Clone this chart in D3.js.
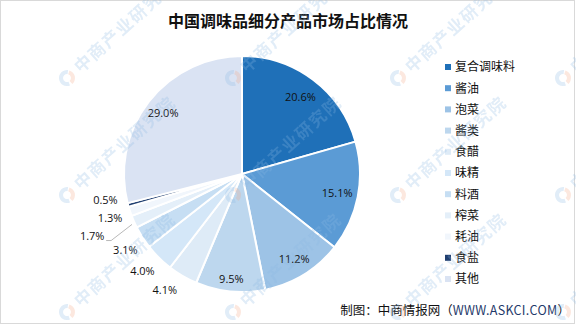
<!DOCTYPE html>
<html>
<head>
<meta charset="utf-8">
<script src="https://cdn.jsdelivr.net/npm/d3@7"></script>
<style>
  html, body { margin: 0; padding: 0; background: #fff; }
  svg { display: block; }
</style>
</head>
<body>
<svg id="chart" width="576" height="326"></svg>
<script>
// Segment shares of China's condiment market (%)
const categories = ["复合调味料", "酱油", "泡菜", "酱类", "食醋", "味精", "料酒", "榨菜", "耗油", "食盐", "其他"];
const shares = [20.6, 15.1, 11.2, 9.5, 4.1, 4.0, 3.1, 1.7, 1.3, 0.5, 29.0];
const sliceColors = ["#1F70B8", "#5B9BD5", "#9DC3E6", "#BDD7EE", "#DEEBF7", "#D4E7F8", "#C6DEF3", "#E4EFF9", "#F1F6FC", "#203F70", "#DAE3F3"];
const titleText = "中国调味品细分产品市场占比情况";
const sourcePrefix = "制图：中商情报网（";
const sourceUrl = "WWW.ASKCI.COM";
const sourceSuffix = "）";
const watermarkText = "中商产业研究院";

const W = 576, H = 326;
const svg = d3.select("#chart");
const cjk = "'Noto Sans CJK SC', 'Noto Sans', sans-serif";

// frame
svg.append("rect").attr("x", 0.5).attr("y", 0.5).attr("width", W - 2).attr("height", H - 3)
  .attr("fill", "#fff").attr("stroke", "#D9D9D9");

// title
svg.append("text").attr("x", 288).attr("y", 27).attr("text-anchor", "middle")
  .attr("font-family", cjk).attr("font-weight", "bold").attr("font-size", 16)
  .attr("fill", "#111").text(titleText);

// pie
const cx = 242, cy = 174, R = 118;
const color = d3.scaleOrdinal().domain(categories).range(sliceColors);
const pie = d3.pie().value(d => d.v).sort(null);
const data = categories.map((c, i) => ({ c, v: shares[i] }));
const arcs = pie(data);
const arc = d3.arc().innerRadius(0).outerRadius(R);

const g = svg.append("g").attr("transform", `translate(${cx},${cy})`);
g.selectAll("path.slice").data(arcs).enter().append("path")
  .attr("class", "slice")
  .attr("d", arc)
  .attr("fill", d => color(d.data.c))
  .attr("stroke", "#fff").attr("stroke-width", 2).attr("stroke-linejoin", "round");

// label placement: big slices inside, small ones outside
const fmt = v => v.toFixed(1) + "%";
const polar = (r, a) => [r * Math.sin(a), -r * Math.cos(a)];
const deg = Math.PI / 180;
const innerR = { "复合调味料": 97, "酱油": 97, "泡菜": 100, "酱类": 106, "其他": 100 };
const outerNudge = { "食醋": 3.5, "味精": 1, "料酒": -0.5, "耗油": 0, "食盐": 4.5 };
const labels = g.append("g").attr("font-family", "'Open Sans', 'Noto Sans', sans-serif")
  .attr("font-size", 11).attr("fill", "#111").attr("text-anchor", "middle");

arcs.forEach(d => {
  const mid = (d.startAngle + d.endAngle) / 2;
  const name = d.data.c;
  let p;
  if (innerR[name] !== undefined) {
    p = polar(innerR[name], mid);
  } else if (name === "榨菜") {
    // pulled-out label with a leader line
    const e = polar(R + 3, mid - 0.8 * deg);
    const lp = polar(162, mid + 1.5 * deg);
    const elbow = [lp[0] + 19, lp[1] + 5];
    g.append("polyline")
      .attr("points", [e, elbow, [lp[0] + 14, elbow[1]]].map(q => q.join(",")).join(" "))
      .attr("fill", "none").attr("stroke", "#A6A6A6").attr("stroke-width", 0.8);
    p = lp;
  } else {
    p = polar(139, mid + (outerNudge[name] || 0) * deg);
  }
  labels.append("text").attr("x", p[0]).attr("y", p[1]).attr("dy", "0.36em").text(fmt(d.data.v));
});

// legend
const legend = svg.append("g").attr("font-family", cjk).attr("font-size", 12).attr("fill", "#111");
const ly = d3.scalePoint().domain(categories).range([67, 279]);
categories.forEach(c => {
  const y = ly(c);
  legend.append("rect").attr("x", 445).attr("y", y - 3).attr("width", 6).attr("height", 6).attr("fill", color(c));
  legend.append("text").attr("x", 455).attr("y", y).attr("dy", "0.36em").text(c);
});

// source note
const src = svg.append("text").attr("x", 570).attr("y", 310).attr("dy", "0.36em").attr("text-anchor", "end")
  .attr("font-family", cjk).attr("font-size", 12.5).attr("fill", "#111");
src.append("tspan").text(sourcePrefix);
src.append("tspan").attr("fill", "#1F3A6A").attr("letter-spacing", 0.3).text(sourceUrl);
src.append("tspan").text(sourceSuffix);

// faint watermark grid
const wm = svg.append("g").attr("opacity", 0.26).attr("pointer-events", "none");
[67, 233, 398, 563].forEach(x => {
  [78, 195, 312].forEach(y => {
    const m = wm.append("g").attr("transform", `translate(${x},${y}) rotate(-42)`);
    const logoArc = d3.arc().innerRadius(4).outerRadius(8);
    m.append("path").attr("d", logoArc({ startAngle: 200 * deg, endAngle: 410 * deg })).attr("fill", "#8DB8E2");
    m.append("path").attr("d", logoArc({ startAngle: 60 * deg, endAngle: 180 * deg })).attr("fill", "#F4A582");
    m.append("text").attr("x", 13).attr("y", 6).attr("font-family", cjk).attr("font-weight", "bold")
      .attr("font-size", 17).attr("letter-spacing", 1.5).attr("fill", "#8DB8E2").text(watermarkText);
  });
});
</script>
</body>
</html>
